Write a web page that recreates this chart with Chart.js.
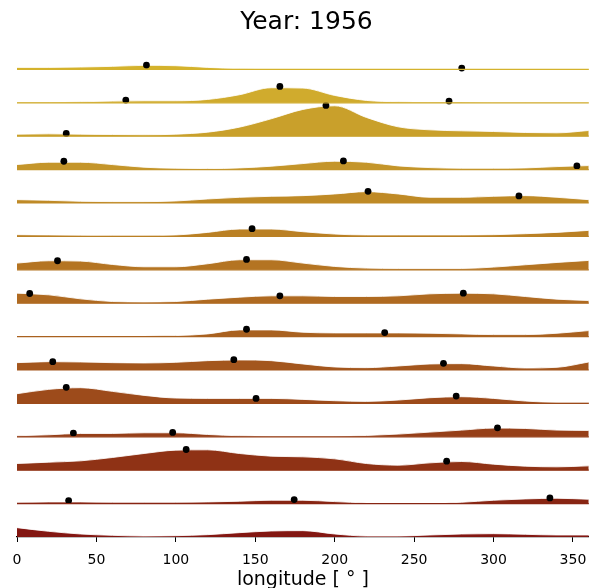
<!DOCTYPE html>
<html>
<head>
<meta charset="utf-8">
<script src="https://cdn.jsdelivr.net/npm/chart.js@4/dist/chart.umd.min.js"></script>
<style>
  body { margin: 0; background: #fff; overflow: hidden; }
  #box { width: 596px; height: 588px; }
</style>
</head>
<body>
<div id="box"><canvas id="grafico"></canvas></div>
<script>
// longitude samples of every ridge (degrees)
const longitudes = [0, 20, 40, 60, 80, 100, 120, 140, 160, 180, 200, 220, 240, 260, 280, 300, 320, 340, 360];

// ridge heights, top row first (in row units)
const row1  = [0.06, 0.06, 0.07, 0.09, 0.12, 0.11, 0.06, 0.02, 0.01, 0.01, 0.01, 0.01, 0.01, 0.01, 0.01, 0.01, 0.01, 0.01, 0.01];
const row2  = [0.02, 0.02, 0.03, 0.05, 0.06, 0.06, 0.10, 0.24, 0.45, 0.44, 0.22, 0.07, 0.03, 0.02, 0.02, 0.01, 0.01, 0.01, 0.01];
const row3  = [0.06, 0.07, 0.06, 0.05, 0.04, 0.06, 0.12, 0.27, 0.52, 0.80, 0.91, 0.56, 0.28, 0.19, 0.16, 0.14, 0.11, 0.10, 0.17];
const row4  = [0.15, 0.22, 0.22, 0.15, 0.07, 0.04, 0.03, 0.05, 0.10, 0.18, 0.25, 0.22, 0.11, 0.06, 0.04, 0.04, 0.05, 0.09, 0.12];
const row5  = [0.10, 0.08, 0.05, 0.04, 0.04, 0.06, 0.12, 0.17, 0.20, 0.22, 0.27, 0.34, 0.27, 0.17, 0.17, 0.20, 0.22, 0.17, 0.10];
const row6  = [0.05, 0.04, 0.03, 0.02, 0.02, 0.04, 0.12, 0.22, 0.22, 0.14, 0.07, 0.04, 0.04, 0.04, 0.04, 0.05, 0.08, 0.12, 0.18];
const row7  = [0.20, 0.27, 0.26, 0.16, 0.09, 0.09, 0.18, 0.30, 0.30, 0.20, 0.10, 0.05, 0.04, 0.04, 0.04, 0.08, 0.15, 0.22, 0.28];
const row8  = [0.30, 0.25, 0.13, 0.05, 0.03, 0.05, 0.12, 0.18, 0.22, 0.22, 0.20, 0.20, 0.22, 0.28, 0.30, 0.28, 0.20, 0.12, 0.08];
const row9  = [0.02, 0.02, 0.02, 0.02, 0.02, 0.03, 0.08, 0.20, 0.20, 0.13, 0.11, 0.11, 0.11, 0.10, 0.08, 0.06, 0.06, 0.10, 0.18];
const row10 = [0.22, 0.25, 0.24, 0.22, 0.21, 0.23, 0.28, 0.30, 0.28, 0.18, 0.09, 0.07, 0.12, 0.18, 0.19, 0.12, 0.06, 0.08, 0.24];
const row11 = [0.29, 0.42, 0.47, 0.36, 0.24, 0.16, 0.15, 0.15, 0.15, 0.12, 0.08, 0.06, 0.10, 0.17, 0.20, 0.15, 0.07, 0.03, 0.03];
const row12 = [0.03, 0.06, 0.10, 0.10, 0.12, 0.12, 0.07, 0.03, 0.02, 0.02, 0.02, 0.04, 0.08, 0.14, 0.20, 0.26, 0.25, 0.20, 0.19];
const row13 = [0.20, 0.24, 0.28, 0.38, 0.50, 0.60, 0.61, 0.50, 0.42, 0.40, 0.34, 0.20, 0.15, 0.22, 0.26, 0.18, 0.12, 0.10, 0.13];
const row14 = [0.04, 0.05, 0.05, 0.04, 0.04, 0.04, 0.05, 0.07, 0.10, 0.10, 0.06, 0.02, 0.01, 0.01, 0.04, 0.10, 0.14, 0.16, 0.13];
const row15 = [0.28, 0.17, 0.09, 0.05, 0.03, 0.04, 0.07, 0.13, 0.18, 0.19, 0.09, 0.03, 0.03, 0.06, 0.09, 0.10, 0.08, 0.06, 0.06];
const rows = [row1, row2, row3, row4, row5, row6, row7, row8, row9, row10, row11, row12, row13, row14, row15];

// black dots: row index (0 = top), longitude, height
const dotRow    = [0, 0, 1, 1, 1, 2, 2, 3, 3, 3, 4, 4, 5, 6, 6, 7, 7, 7, 8, 8, 9, 9, 9, 10, 10, 10, 11, 11, 11, 12, 12, 13, 13, 13];
const dotLon    = [81.5, 280, 68.5, 165.5, 272, 31, 194.5, 29.5, 205.5, 352.5, 221, 316, 148, 25.5, 144.5, 8, 165.5, 281, 144.5, 231.5, 22.5, 136.5, 268.5, 31, 150.5, 276.5, 35.5, 98, 302.5, 106.5, 270.5, 32.5, 174.5, 335.5];
const dotHeight = [0.13, 0.04, 0.08, 0.49, 0.05, 0.08, 0.92, 0.25, 0.26, 0.11, 0.35, 0.21, 0.23, 0.27, 0.31, 0.29, 0.22, 0.30, 0.22, 0.12, 0.25, 0.31, 0.20, 0.48, 0.15, 0.22, 0.11, 0.13, 0.27, 0.62, 0.27, 0.09, 0.12, 0.17];

const tickValues = [0, 50, 100, 150, 200, 250, 300, 350];

const colors = ["#d4b22c", "#d0ab2d", "#c9a02b", "#c4952a", "#bf8a26", "#ba8024", "#b47422", "#af6a21",
                "#a9611f", "#a3561d", "#9d4b1b", "#963f18", "#8f3215", "#882513", "#831712"];

const nRows = rows.length;
const datasets = [];

rows.forEach((vals, i) => {
    const base = nRows - 1 - i;
    datasets.push({
        type: "line",
        data: longitudes.map((lon, k) => ({ x: lon, y: base + vals[k] })),
        fill: { value: base },
        backgroundColor: colors[i],
        borderColor: "rgba(255,255,255,0.85)",
        borderWidth: 1,
        pointRadius: 0,
        cubicInterpolationMode: "monotone",
        order: 2
    });
});

datasets.push({
    type: "scatter",
    data: dotLon.map((lon, k) => ({ x: lon, y: nRows - 1 - dotRow[k] + dotHeight[k] })),
    backgroundColor: "#000",
    borderWidth: 0,
    pointRadius: 3.4,
    order: 0
});

// thin line along the bottom of every ridge
const baselines = {
    id: "baselines",
    afterDatasetsDraw(chart) {
        const { ctx, chartArea, scales } = chart;
        ctx.save();
        ctx.lineWidth = 1.2;
        for (let i = 0; i < nRows - 1; i++) {
            const y = scales.y.getPixelForValue(nRows - 1 - i);
            ctx.strokeStyle = colors[i];
            ctx.beginPath();
            ctx.moveTo(chartArea.left, y);
            ctx.lineTo(chartArea.right, y);
            ctx.stroke();
        }
        ctx.restore();
    }
};

new Chart(document.getElementById("grafico"), {
    data: { datasets: datasets },
    options: {
        responsive: true,
        maintainAspectRatio: false,
        animation: false,
        layout: { padding: { left: 17, right: 0, top: 0, bottom: 0 } },
        plugins: {
            legend: { display: false },
            tooltip: { enabled: false },
            title: {
                display: true,
                text: "Year: 1956",
                color: "#000",
                font: { family: "DejaVu Sans", size: 25, weight: "normal", lineHeight: 1.2 },
                padding: { top: 7, bottom: 9 }
            }
        },
        scales: {
            x: {
                type: "linear",
                min: 0,
                max: 360,
                afterBuildTicks: axis => { axis.ticks = tickValues.map(v => ({ value: v })); },
                grid: { display: true, drawOnChartArea: false, drawTicks: true, tickLength: 5, color: "#000" },
                border: { display: true, color: "#000", width: 1.3 },
                ticks: { color: "#000", font: { family: "DejaVu Sans", size: 14, lineHeight: 1.2 }, padding: 9.6, maxRotation: 0 },
                title: {
                    display: true,
                    text: "longitude [ ° ]",
                    color: "#000",
                    font: { family: "DejaVu Sans", size: 19, lineHeight: 1.0 },
                    padding: { top: -7, bottom: -2 }
                }
            },
            y: {
                type: "linear",
                display: false,
                min: 0,
                max: 14.7
            }
        }
    },
    plugins: [baselines]
});
</script>
</body>
</html>
